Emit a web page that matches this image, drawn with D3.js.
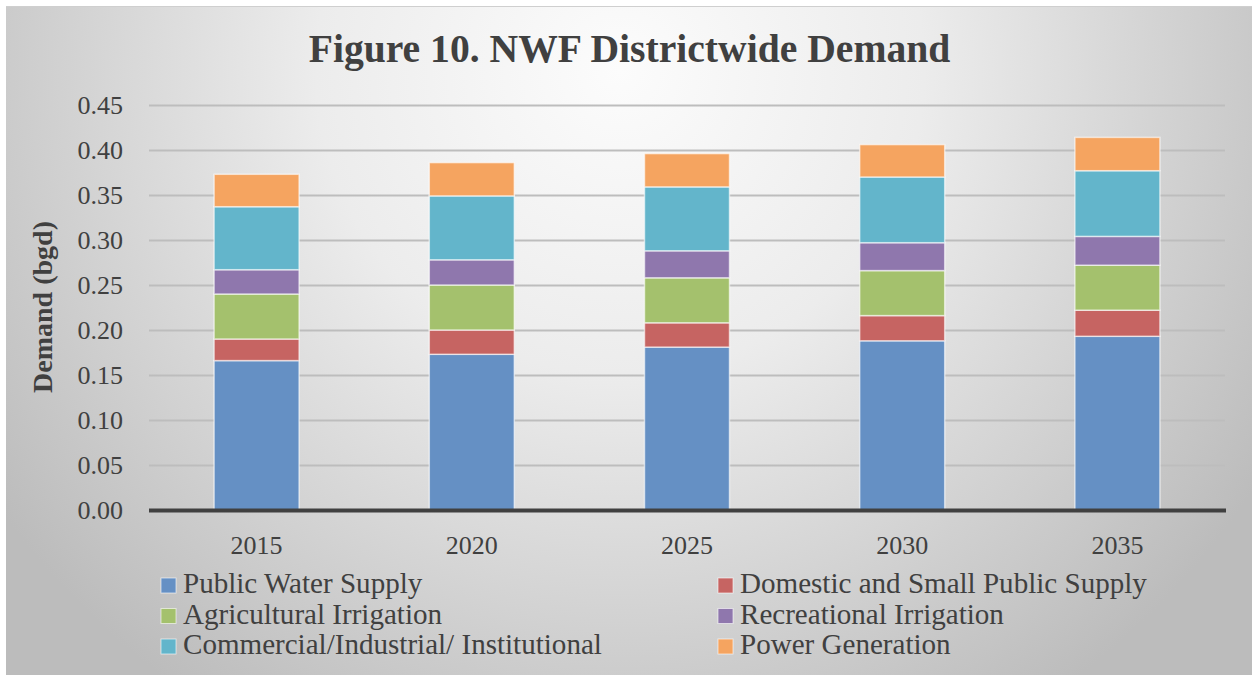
<!DOCTYPE html>
<html>
<head>
<meta charset="utf-8">
<script src="https://cdn.jsdelivr.net/npm/d3@7"></script>
<style>
  html, body { margin: 0; padding: 0; background: #ffffff; }
  svg { display: block; }
  text { font-family: "Liberation Serif", "Times New Roman", serif; fill: #404040; }
</style>
</head>
<body>
<svg id="chart" width="1252" height="675"></svg>
<script>
// ---- data ----
const years = ["2015", "2020", "2025", "2030", "2035"];
const seriesNames = [
  "Public Water Supply",
  "Domestic and Small Public Supply",
  "Agricultural Irrigation",
  "Recreational Irrigation",
  "Commercial/Industrial/ Institutional",
  "Power Generation"
];
const publicWater   = [0.166, 0.173, 0.181, 0.188, 0.193];
const domesticSmall = [0.024, 0.027, 0.027, 0.028, 0.029];
const agricultural  = [0.050, 0.050, 0.050, 0.050, 0.050];
const recreational  = [0.027, 0.028, 0.030, 0.031, 0.032];
const commercial    = [0.070, 0.071, 0.071, 0.073, 0.073];
const power         = [0.036, 0.037, 0.037, 0.036, 0.037];
const yTicks = [0, 0.05, 0.10, 0.15, 0.20, 0.25, 0.30, 0.35, 0.40, 0.45];
const colors = ["#6590c4", "#c66462", "#a4c16d", "#8f77ad", "#63b5cb", "#f5a460"];

const seriesValues = [publicWater, domesticSmall, agricultural, recreational, commercial, power];
const keys = seriesNames;
const table = years.map((y, i) => {
  const row = { year: y };
  keys.forEach((k, j) => row[k] = seriesValues[j][i]);
  return row;
});

const svg = d3.select("#chart");

// ---- background ----
const defs = svg.append("defs");
const grad = defs.append("radialGradient")
  .attr("id", "bg").attr("gradientUnits", "userSpaceOnUse")
  .attr("cx", 620).attr("cy", 70).attr("r", 760);
grad.append("stop").attr("offset", 0).attr("stop-color", "#fcfcfc");
grad.append("stop").attr("offset", 0.4).attr("stop-color", "#ececec");
grad.append("stop").attr("offset", 1).attr("stop-color", "#bcbcbc");

svg.append("rect").attr("x", 6).attr("y", 6).attr("width", 1246).attr("height", 669)
  .attr("fill", "url(#bg)");
svg.append("line").attr("x1", 6).attr("x2", 1252).attr("y1", 6.5).attr("y2", 6.5)
  .attr("stroke", "#cfcfcf").attr("stroke-width", 1);

// ---- scales ----
const x = d3.scaleBand().domain(years).range([149, 1225])
  .paddingInner(0.605).paddingOuter(0.3025);
const y = d3.scaleLinear().domain([0, 0.45]).range([510, 105]);

// measure helper: font size (px) at which a string reaches a target width
function sizeFor(str, target, bold) {
  const t = svg.append("text")
    .attr("font-size", 100)
    .style("font-weight", bold ? "bold" : "normal")
    .text(str);
  const w = t.node().getComputedTextLength();
  t.remove();
  return w > 0 ? 100 * target / w : 24;
}

// ---- gridlines ----
const yAxisGrid = d3.axisLeft(y).tickValues(yTicks).tickSize(-(1225 - 149)).tickFormat("");
const grid = svg.append("g").attr("transform", "translate(149,0)").call(yAxisGrid);
grid.select(".domain").remove();
grid.selectAll(".tick line").attr("stroke", "#bdbdbd").attr("stroke-width", 2);

// ---- y tick labels ----
const yAxis = d3.axisLeft(y).tickValues(yTicks).tickSize(0).tickPadding(0)
  .tickFormat(d3.format(".2f"));
const ya = svg.append("g").attr("transform", "translate(123,0)").call(yAxis);
ya.select(".domain").remove();
ya.selectAll(".tick text")
  .style("font-family", '"Liberation Serif", serif')
  .style("font-size", "26px").attr("fill", "#404040")
  .attr("dy", "0.32em");

// ---- bars ----
const stack = d3.stack().keys(keys)(table);
const layers = svg.append("g").selectAll("g").data(stack).join("g")
  .attr("fill", (d, i) => colors[i]);
layers.selectAll("rect").data(d => d).join("rect")
  .attr("x", d => x(d.data.year))
  .attr("width", x.bandwidth())
  .attr("y", d => y(d[1]))
  .attr("height", d => y(d[0]) - y(d[1]))
  .attr("stroke", "rgba(255,255,255,0.6)")
  .attr("stroke-width", 1.5);

// ---- x axis ----
const xAxis = d3.axisBottom(x).tickSize(0).tickPadding(0);
const xa = svg.append("g").attr("transform", "translate(0,510)").call(xAxis);
xa.select(".domain").remove();
xa.selectAll(".tick text")
  .style("font-family", '"Liberation Serif", serif')
  .style("font-size", "26px").attr("fill", "#404040")
  .attr("dy", 0).attr("y", 44);
svg.append("line").attr("x1", 149).attr("x2", 1226).attr("y1", y(0) + 0.5).attr("y2", y(0) + 0.5)
  .attr("stroke", "#404040").attr("stroke-width", 4);

// ---- title ----
const titleStr = "Figure 10. NWF Districtwide Demand";
svg.append("text").attr("x", 629.5).attr("y", 62)
  .attr("text-anchor", "middle").style("font-weight", "bold")
  .style("font-size", sizeFor(titleStr, 642, true) + "px")
  .text(titleStr);

// ---- y axis title ----
const ytStr = "Demand (bgd)";
svg.append("text")
  .attr("transform", "translate(52,307) rotate(-90)")
  .attr("text-anchor", "middle").style("font-weight", "bold")
  .style("font-size", sizeFor(ytStr, 172, true) + "px")
  .text(ytStr);

// ---- legend ----
const legendPos = [
  [161, 593], [718, 593],
  [161, 623.5], [718, 623.5],
  [161, 654], [718, 654]
];
const fsL = Math.min(
  sizeFor(seriesNames[4], 443, false),
  sizeFor(seriesNames[1], 407, false),
  sizeFor(seriesNames[0], 243, false)
);
const lg = svg.append("g");
const items = lg.selectAll("g").data(keys).join("g")
  .attr("transform", (d, i) => `translate(${legendPos[i][0]},${legendPos[i][1]})`);
items.append("rect").attr("x", 0).attr("y", -15).attr("width", 15).attr("height", 15)
  .attr("fill", (d, i) => colors[i]).attr("stroke", "rgba(255,255,255,0.6)").attr("stroke-width", 1);
items.append("text").attr("x", 22).attr("y", 0).text(d => d)
  .style("font-size", fsL + "px");
</script>
</body>
</html>
